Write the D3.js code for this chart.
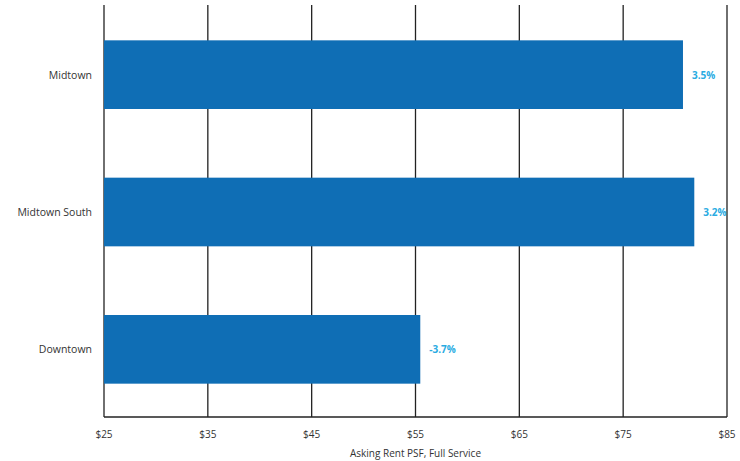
<!DOCTYPE html>
<html><head><meta charset="utf-8">
<script src="https://cdn.jsdelivr.net/npm/d3@7"></script>
<style>body{margin:0;background:#fff}svg{display:block;font-family:"Open Sans",sans-serif}</style>
</head><body><svg id="c" width="740" height="461"></svg>
<script>
const categories = ["Midtown", "Midtown South", "Downtown"];
const rents = [80.76, 81.85, 55.46];
const changes = ["3.5%", "3.2%", "-3.7%"];
const tickValues = [25, 35, 45, 55, 65, 75, 85];
const axisTitle = "Asking Rent PSF, Full Service";

(function () {
const svg = d3.select("#c");
const pL = 104, pR = 727, pT = 5, pB = 417;
const x = d3.scaleLinear().domain([25, 85]).range([pL, pR]);
const y = d3.scaleBand().domain(categories).range([pT + 1, pB + 1]).paddingInner(0.5).paddingOuter(0.25);

// gridlines
svg.append("g").selectAll("line").data(tickValues).join("line")
  .attr("x1", d => x(d)).attr("x2", d => x(d))
  .attr("y1", pT).attr("y2", pB)
  .attr("stroke", "#222").attr("stroke-width", 1.3);

// bars
svg.append("g").selectAll("rect").data(categories).join("rect")
  .attr("x", x(25)).attr("y", d => y(d))
  .attr("width", (d, i) => x(rents[i]) - x(25))
  .attr("height", y.bandwidth())
  .attr("fill", "#0f6eb5");

// bottom axis line
svg.append("line").attr("x1", pL).attr("x2", pR).attr("y1", pB).attr("y2", pB)
  .attr("stroke", "#222").attr("stroke-width", 1.3);

// tick labels
svg.append("g").selectAll("text").data(tickValues).join("text")
  .attr("x", d => x(d)).attr("y", 438)
  .attr("text-anchor", "middle").attr("font-size", 10).attr("fill", "#333")
  .text(d => "$" + d);

// axis title
svg.append("text").attr("x", (pL + pR) / 2).attr("y", 457)
  .attr("text-anchor", "middle").attr("font-size", 10).attr("fill", "#333")
  .text(axisTitle);

// category labels
svg.append("g").selectAll("text").data(categories).join("text")
  .attr("x", 92).attr("y", d => y(d) + y.bandwidth() / 2 + 4)
  .attr("text-anchor", "end").attr("font-size", 10.5).attr("fill", "#333")
  .text(d => d);

// change labels
svg.append("g").selectAll("text").data(categories).join("text")
  .attr("x", (d, i) => x(rents[i]) + 9).attr("y", d => y(d) + y.bandwidth() / 2 + 4)
  .attr("font-size", 10).attr("font-weight", "bold").attr("fill", "#29abe2")
  .text((d, i) => changes[i]);
})();
</script></body></html>
